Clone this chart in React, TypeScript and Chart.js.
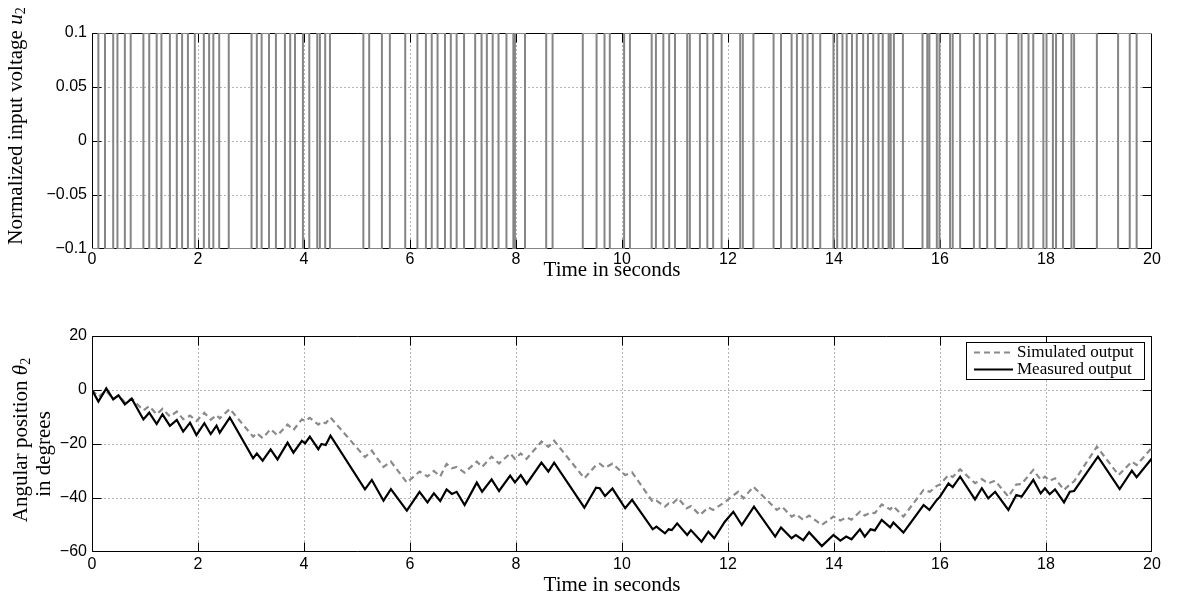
import React, { useEffect, useRef } from "react";
import { Chart, registerables } from "chart.js";

Chart.register(...registerables);

// ---------------- data ----------------
const timeTicks = [0, 2, 4, 6, 8, 10, 12, 14, 16, 18, 20];
const timeTickLabels = ["0", "2", "4", "6", "8", "10", "12", "14", "16", "18", "20"];
const voltageTicks = [-0.1, -0.05, 0, 0.05, 0.1];
const voltageTickLabels = ["\u22120.1", "\u22120.05", "0", "0.05", "0.1"];
const angleTicks = [-60, -40, -20, 0, 20];
const angleTickLabels = ["\u221260", "\u221240", "\u221220", "0", "20"];

const voltageLow = -0.1;
const voltageHigh = 0.1;
const endTime = 20;

// times (s) where the input voltage switches to +0.1 (pulseOn) and back to -0.1 (pulseOff)
const pulseOn = [
  0.12, 0.4, 0.62, 0.97, 1.22, 1.47, 1.7, 1.94, 2.21, 2.4,
  3.01, 3.2, 3.47, 3.74, 3.98, 4.25, 4.4,
  5.12, 5.47, 5.91, 6.3, 6.52, 6.77, 7.02, 7.35, 7.56, 7.82, 7.98, 8.57,
  9.26, 9.67, 10.04, 10.56, 10.78, 11.0, 11.28, 11.61, 11.88, 12.28,
  12.86, 13.2, 13.41, 13.6, 13.99, 14.16, 14.34, 14.55, 14.74, 14.92,
  15.07, 15.3, 15.76, 15.94, 16.19, 16.38, 16.75, 17.04, 17.48, 17.67,
  17.95, 18.13, 18.32, 18.53, 19.36, 19.71,
];
const pulseOff = [
  0.245, 0.48, 0.73, 1.08, 1.31, 1.6, 1.81, 2.11, 2.29, 2.58,
  3.11, 3.34, 3.64, 3.83, 4.1, 4.3, 4.49,
  5.23, 5.62, 6.14, 6.41, 6.66, 6.88, 7.23, 7.45, 7.67, 7.95, 8.17, 8.69,
  9.52, 9.77, 10.15, 10.64, 10.89, 11.23, 11.47, 11.72, 12.23, 12.48,
  13.0, 13.3, 13.5, 13.74, 14.06, 14.24, 14.43, 14.64, 14.84, 15.03,
  15.13, 15.67, 15.8, 15.99, 16.24, 16.64, 16.89, 17.26, 17.54, 17.76,
  18.01, 18.19, 18.48, 18.96, 19.58, 20.0,
];

// Measured output (degrees)
const measT = [
  0, 0.12, 0.27, 0.4, 0.5, 0.62, 0.75, 0.97, 1.08, 1.22,
  1.33, 1.47, 1.6, 1.72, 1.85, 1.97, 2.12, 2.24, 2.35, 2.41,
  2.6, 3.04, 3.11, 3.22, 3.37, 3.5, 3.69, 3.8, 3.96, 4.02,
  4.11, 4.27, 4.33, 4.41, 4.5, 5.15, 5.28, 5.5, 5.64, 5.94,
  6.18, 6.33, 6.45, 6.57, 6.69, 6.79, 6.88, 7.03, 7.26, 7.36,
  7.54, 7.68, 7.89, 7.98, 8.09, 8.2, 8.48, 8.61, 8.72, 9.29,
  9.51, 9.58, 9.68, 9.82, 10.06, 10.19, 10.58, 10.65, 10.81, 10.88,
  10.94, 11.04, 11.23, 11.3, 11.5, 11.63, 11.74, 11.94, 12.1, 12.26,
  12.49, 12.89, 13.0, 13.2, 13.28, 13.42, 13.53, 13.77, 13.99, 14.12,
  14.23, 14.33, 14.49, 14.58, 14.69, 14.77, 14.9, 15.06, 15.12, 15.31,
  15.69, 15.8, 15.94, 16.0, 16.16, 16.24, 16.38, 16.66, 16.79, 16.91,
  17.04, 17.29, 17.44, 17.54, 17.76, 17.9, 17.98, 18.07, 18.17, 18.34,
  18.45, 18.53, 18.98, 19.39, 19.62, 19.71, 20.0,
];
const measV = [
  0, -4.3, 0.6, -3.5, -2.0, -5.3, -3.2, -10.9, -8.4, -12.6,
  -9.0, -13.3, -11.1, -15.4, -12.1, -16.7, -12.3, -16.3, -13.2, -15.8,
  -10.2, -25.3, -23.5, -26.2, -22.0, -25.7, -19.5, -23.2, -18.8, -19.8,
  -17.3, -21.9, -20.0, -20.4, -16.9, -36.8, -33.3, -41.0, -36.7, -44.7,
  -37.7, -41.6, -38.3, -41.1, -36.8, -38.5, -37.7, -42.6, -34.3, -37.7,
  -33.1, -37.4, -31.7, -34.2, -31.5, -34.8, -26.9, -30.2, -26.9, -43.6,
  -36.2, -36.4, -39.3, -36.5, -43.8, -40.7, -51.6, -50.6, -53.1, -51.6,
  -51.9, -49.4, -53.7, -51.9, -56.2, -52.5, -54.9, -48.8, -45.1, -50.0,
  -43.2, -54.3, -50.9, -54.9, -53.7, -55.6, -52.7, -57.8, -53.7, -55.8,
  -54.3, -55.3, -51.6, -54.3, -51.6, -52.0, -48.1, -50.9, -49.1, -52.8,
  -42.6, -44.4, -40.7, -39.5, -34.6, -36.0, -32.1, -40.5, -36.4, -40.1,
  -37.7, -44.4, -38.9, -39.5, -33.3, -38.3, -36.4, -38.6, -36.8, -41.6,
  -37.7, -37.4, -24.7, -36.7, -29.9, -32.3, -25.3,
];

// Simulated output (degrees)
const simT = [
  0, 0.12, 0.27, 0.4, 0.5, 0.62, 0.75, 0.97, 1.08, 1.22,
  1.33, 1.47, 1.6, 1.72, 1.85, 1.97, 2.12, 2.24, 2.35, 2.41,
  2.6, 3.04, 3.11, 3.22, 3.37, 3.5, 3.69, 3.8, 3.96, 4.02,
  4.11, 4.27, 4.33, 4.41, 4.5, 5.15, 5.28, 5.5, 5.64, 5.94,
  6.18, 6.33, 6.45, 6.57, 6.69, 6.79, 6.88, 7.03, 7.26, 7.36,
  7.54, 7.68, 7.89, 7.98, 8.09, 8.2, 8.48, 8.61, 8.72, 9.29,
  9.51, 9.58, 9.68, 9.82, 10.06, 10.19, 10.58, 10.65, 10.81, 10.88,
  10.94, 11.06, 11.22, 11.3, 11.47, 11.63, 11.72, 11.94, 12.19, 12.29,
  12.48, 12.92, 13.02, 13.2, 13.28, 13.42, 13.53, 13.77, 13.99, 14.12,
  14.24, 14.33, 14.49, 14.58, 14.69, 14.77, 14.9, 15.06, 15.12, 15.31,
  15.69, 15.81, 15.94, 16.0, 16.16, 16.24, 16.38, 16.66, 16.79, 16.91,
  17.04, 17.29, 17.44, 17.54, 17.76, 17.9, 17.98, 18.07, 18.17, 18.34,
  18.45, 18.53, 18.96, 19.37, 19.62, 19.71, 20.0,
];
const simV = [
  0, -2.5, -0.3, -3.3, -2.0, -4.5, -3.2, -7.5, -6.0, -9.0,
  -7.0, -9.8, -8.0, -10.8, -9.5, -11.5, -8.5, -11.0, -9.3, -10.5,
  -7.0, -17.3, -16.0, -17.8, -14.5, -16.8, -12.8, -14.8, -10.9, -11.5,
  -10.3, -12.8, -11.8, -12.3, -10.2, -24.8, -22.5, -28.5, -26.5, -34.3,
  -30.2, -32.0, -30.0, -32.0, -27.4, -29.0, -28.5, -30.6, -26.5, -28.5,
  -24.7, -27.2, -23.5, -25.5, -23.5, -25.5, -19.1, -21.0, -18.8, -32.7,
  -27.8, -27.3, -28.8, -27.3, -31.5, -30.5, -41.4, -41.0, -43.2, -42.0,
  -42.3, -40.1, -43.8, -43.0, -46.3, -43.5, -44.4, -41.5, -37.7, -40.1,
  -35.8, -44.4, -43.2, -46.9, -46.0, -48.1, -46.5, -50.0, -46.9, -48.3,
  -47.2, -48.0, -45.1, -46.5, -45.4, -45.6, -42.4, -44.2, -43.0, -46.9,
  -37.0, -37.7, -35.5, -35.0, -31.5, -32.2, -29.4, -34.5, -33.0, -34.6,
  -33.6, -39.5, -35.0, -34.8, -29.6, -33.2, -32.1, -33.6, -32.7, -37.0,
  -35.0, -33.8, -21.0, -31.5, -26.5, -27.8, -21.3,
];

// ---------------- layout / style ----------------
const W = 1183;
const TOP_H = 290;
const BOT_H = 309;
const SERIF = "'Liberation Serif', 'Times New Roman', serif";
const SANS = "'Liberation Sans', Arial, Helvetica, sans-serif";
const TITLE_PX = 21;
const SUB_PX = 14;
const LEGEND_PX = 17;

type Seg = { text: string; font: string; dy?: number };

function drawSegs(ctx: CanvasRenderingContext2D, segs: Seg[], cx: number, cy: number, rotate: boolean) {
  ctx.save();
  ctx.translate(cx, cy);
  if (rotate) ctx.rotate(-Math.PI / 2);
  ctx.textBaseline = "middle";
  ctx.textAlign = "left";
  ctx.fillStyle = "#000";
  let total = 0;
  const widths = segs.map((s) => {
    ctx.font = s.font;
    const w = ctx.measureText(s.text).width;
    total += w;
    return w;
  });
  let x = -total / 2;
  segs.forEach((s, i) => {
    ctx.font = s.font;
    ctx.fillText(s.text, x, s.dy || 0);
    x += widths[i];
  });
  ctx.restore();
}

function makeFramePlugin(xVals: number[], yVals: number[]) {
  return {
    id: "matlabFrame",
    beforeDatasetsDraw(chart: any) {
      const { ctx, chartArea: a } = chart;
      const xs = chart.scales.x;
      const ys = chart.scales.y;
      const L = a.left + 0.5, R = a.right - 0.5, T = a.top + 0.5, B = a.bottom - 0.5;
      const cl = (v: number, lo: number, hi: number) => Math.min(Math.max(v, lo), hi);
      ctx.save();
      ctx.lineWidth = 1;
      ctx.strokeStyle = "#6a6a6a";
      ctx.setLineDash([1, 3]);
      ctx.beginPath();
      xVals.forEach((v) => {
        const p = Math.round(xs.getPixelForValue(v)) + 0.5;
        if (p < L + 2 || p > R - 2) return;
        ctx.moveTo(p, T);
        ctx.lineTo(p, B);
      });
      yVals.forEach((v) => {
        const p = Math.round(ys.getPixelForValue(v)) + 0.5;
        if (p < T + 2 || p > B - 2) return;
        ctx.moveTo(L, p);
        ctx.lineTo(R, p);
      });
      ctx.stroke();
      ctx.setLineDash([]);
      ctx.strokeStyle = "#000";
      ctx.beginPath();
      ctx.rect(L, T, R - L, B - T);
      const tl = 9;
      xVals.forEach((v) => {
        const p = cl(Math.round(xs.getPixelForValue(v)) + 0.5, L, R);
        ctx.moveTo(p, B);
        ctx.lineTo(p, B - tl);
        ctx.moveTo(p, T);
        ctx.lineTo(p, T + tl);
      });
      yVals.forEach((v) => {
        const p = cl(Math.round(ys.getPixelForValue(v)) + 0.5, T, B);
        ctx.moveTo(L, p);
        ctx.lineTo(L + tl, p);
        ctx.moveTo(R, p);
        ctx.lineTo(R - tl, p);
      });
      ctx.stroke();
      ctx.restore();
    },
  };
}

function makeTitlePlugin(draw: (ctx: CanvasRenderingContext2D, chart: any) => void) {
  return {
    id: "axisTitles",
    afterDraw(chart: any) {
      draw(chart.ctx, chart);
    },
  };
}

const legendPlugin = {
  id: "boxLegend",
  afterDatasetsDraw(chart: any) {
    const { ctx, chartArea: a } = chart;
    const bw = 179, bh = 38;
    const right = a.right - 7;
    const top = a.top + 6;
    const left = right - bw;
    ctx.save();
    ctx.fillStyle = "#fff";
    ctx.fillRect(left, top, bw, bh);
    ctx.strokeStyle = "#000";
    ctx.lineWidth = 1;
    ctx.strokeRect(left + 0.5, top + 0.5, bw - 1, bh - 1);
    const order = ["Simulated output", "Measured output"];
    order.forEach((label, i) => {
      const ds = chart.data.datasets.find((d: any) => d.label === label);
      const y = top + 10.5 + i * 17;
      ctx.strokeStyle = ds.borderColor;
      ctx.lineWidth = ds.borderWidth;
      ctx.setLineDash(ds.borderDash || []);
      ctx.beginPath();
      ctx.moveTo(left + 8, y);
      ctx.lineTo(left + 47, y);
      ctx.stroke();
      ctx.setLineDash([]);
      ctx.fillStyle = "#000";
      ctx.font = `${LEGEND_PX}px ${SERIF}`;
      ctx.textBaseline = "middle";
      ctx.textAlign = "left";
      ctx.fillText(label, left + 51, y + 0.5);
    });
    ctx.restore();
  },
};

function axisOpts(min: number, max: number, vals: number[], labels: string[], isY: boolean, size: number, pad: number) {
  return {
    type: "linear" as const,
    min,
    max,
    grid: { display: false, drawTicks: false },
    border: { display: false },
    afterBuildTicks: (scale: any) => {
      scale.ticks = vals.map((v) => ({ value: v }));
    },
    afterFit: (scale: any) => {
      if (isY) scale.width = size;
      else scale.height = size;
    },
    ticks: {
      autoSkip: false,
      maxRotation: 0,
      padding: pad,
      color: "#000",
      font: { family: SANS, size: 16 },
      callback: (_v: any, i: number) => labels[i],
    },
  };
}

export default function App() {
  const topRef = useRef<HTMLCanvasElement>(null);
  const botRef = useRef<HTMLCanvasElement>(null);

  useEffect(() => {
    const prbs: { x: number; y: number }[] = [{ x: 0, y: voltageLow }];
    pulseOn.forEach((on, i) => {
      prbs.push({ x: on, y: voltageHigh });
      const off = pulseOff[i];
      prbs.push({ x: off, y: off >= endTime ? voltageHigh : voltageLow });
    });

    const top = new Chart(topRef.current as HTMLCanvasElement, {
      type: "line",
      data: {
        datasets: [
          {
            label: "u2",
            data: prbs,
            stepped: "before",
            borderColor: "#858585",
            borderWidth: 2,
            pointRadius: 0,
            fill: false,
          },
        ],
      },
      options: {
        responsive: false,
        maintainAspectRatio: false,
        animation: false,
        events: [],
        layout: { padding: { top: 33, right: 31, left: 0, bottom: 0 } },
        plugins: { legend: { display: false }, tooltip: { enabled: false } },
        scales: {
          x: axisOpts(0, endTime, timeTicks, timeTickLabels, false, 41, 1),
          y: axisOpts(voltageLow, voltageHigh, voltageTicks, voltageTickLabels, true, 92, 5),
        },
      },
      plugins: [
        makeFramePlugin(timeTicks, voltageTicks),
        makeTitlePlugin((ctx) => {
          drawSegs(ctx, [{ text: "Time in seconds", font: `${TITLE_PX}px ${SERIF}` }], 612, 270, false);
          drawSegs(
            ctx,
            [
              { text: "Normalized input voltage ", font: `${TITLE_PX}px ${SERIF}` },
              { text: "u", font: `italic ${TITLE_PX}px ${SERIF}` },
              { text: "2", font: `${SUB_PX}px ${SERIF}`, dy: 5 },
            ],
            16,
            126,
            true
          );
        }),
      ],
    } as any);

    const meas = measT.map((t, i) => ({ x: t, y: measV[i] }));
    const sim = simT.map((t, i) => ({ x: t, y: simV[i] }));

    const bot = new Chart(botRef.current as HTMLCanvasElement, {
      type: "line",
      data: {
        datasets: [
          {
            label: "Measured output",
            data: meas,
            borderColor: "#000000",
            borderWidth: 2.2,
            pointRadius: 0,
            tension: 0,
            fill: false,
          },
          {
            label: "Simulated output",
            data: sim,
            borderColor: "#8a8a8a",
            borderWidth: 2.2,
            borderDash: [6, 4],
            pointRadius: 0,
            tension: 0,
            fill: false,
          },
        ],
      },
      options: {
        responsive: false,
        maintainAspectRatio: false,
        animation: false,
        events: [],
        layout: { padding: { top: 46, right: 31, left: 0, bottom: 0 } },
        plugins: { legend: { display: false }, tooltip: { enabled: false } },
        scales: {
          x: axisOpts(0, endTime, timeTicks, timeTickLabels, false, 47, 3),
          y: axisOpts(-60, 20, angleTicks, angleTickLabels, true, 92, 5),
        },
      },
      plugins: [
        makeFramePlugin(timeTicks, angleTicks),
        legendPlugin,
        makeTitlePlugin((ctx) => {
          drawSegs(ctx, [{ text: "Time in seconds", font: `${TITLE_PX}px ${SERIF}` }], 612, 295, false);
          drawSegs(
            ctx,
            [
              { text: "Angular position ", font: `${TITLE_PX}px ${SERIF}` },
              { text: "\u03B8", font: `italic ${TITLE_PX}px ${SERIF}` },
              { text: "2", font: `${SUB_PX}px ${SERIF}`, dy: 5 },
            ],
            21,
            150,
            true
          );
          drawSegs(ctx, [{ text: "in degrees", font: `${TITLE_PX}px ${SERIF}` }], 44, 164, true);
        }),
      ],
    } as any);

    return () => {
      top.destroy();
      bot.destroy();
    };
  }, []);

  return (
    <div style={{ position: "absolute", left: 0, top: 0, width: W, height: TOP_H + BOT_H, background: "#fff" }}>
      <canvas ref={topRef} width={W} height={TOP_H} style={{ position: "absolute", left: 0, top: 0, display: "block" }} />
      <canvas ref={botRef} width={W} height={BOT_H} style={{ position: "absolute", left: 0, top: TOP_H, display: "block" }} />
    </div>
  );
}
